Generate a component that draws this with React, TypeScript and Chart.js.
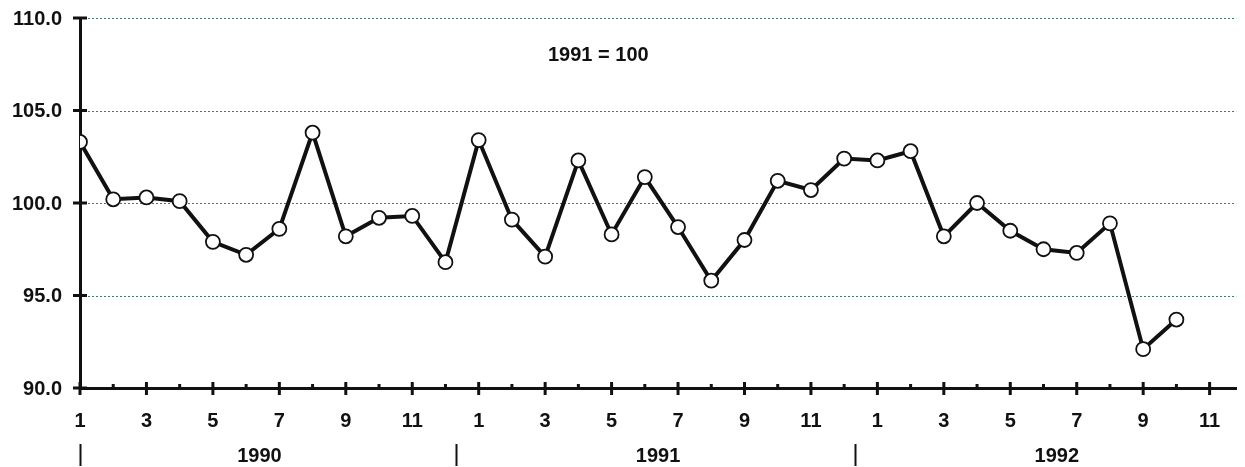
import React, { useEffect, useRef } from 'react';
import { Chart, registerables } from 'chart.js';

Chart.register(...registerables);

const years = ['1990', '1991', '1992'];
const values1990 = [103.3, 100.2, 100.3, 100.1, 97.9, 97.2, 98.6, 103.8, 98.2, 99.2, 99.3, 96.8];
const values1991 = [103.4, 99.1, 97.1, 102.3, 98.3, 101.4, 98.7, 95.8, 98.0, 101.2, 100.7, 102.4];
const values1992 = [102.3, 102.8, 98.2, 100.0, 98.5, 97.5, 97.3, 98.9, 92.1, 93.7];
const yTicks = [90, 95, 100, 105, 110];
const gridValues = [95, 100, 105, 110];
const baseNote = '1991 = 100';
const monthsPerYear = 12;
const xAxisMax = 34.8;

const FONT = '"Liberation Sans", Arial, sans-serif';
const LABEL_FONT = `bold 20px ${FONT}`;

export default function App() {
  const ref = useRef<HTMLCanvasElement | null>(null);

  useEffect(() => {
    const canvas = ref.current;
    if (!canvas) return;
    const series = [...values1990, ...values1991, ...values1992];
    const points = series.map((v, i) => ({ x: i, y: v }));
    const lastIndex = years.length * monthsPerYear - 1;

    const decor = {
      id: 'decor',
      beforeDatasetsDraw(chart: any) {
        const { ctx, chartArea, scales } = chart;
        const y = scales.y;
        ctx.save();
        ctx.strokeStyle = 'rgba(40,95,85,0.85)';
        ctx.lineWidth = 1;
        ctx.setLineDash([2, 2]);
        for (const g of gridValues) {
          const py = Math.round(y.getPixelForValue(g)) + 0.5;
          ctx.beginPath();
          ctx.moveTo(chartArea.left, py);
          ctx.lineTo(chartArea.right, py);
          ctx.stroke();
        }
        ctx.restore();
      },
      afterDraw(chart: any) {
        const { ctx, chartArea, scales } = chart;
        const x = scales.x;
        const y = scales.y;
        ctx.save();
        ctx.strokeStyle = '#111';
        ctx.fillStyle = '#111';
        ctx.lineWidth = 3;
        ctx.font = LABEL_FONT;
        // y tick crosses and labels
        ctx.textAlign = 'right';
        ctx.textBaseline = 'middle';
        for (const t of yTicks) {
          const py = y.getPixelForValue(t);
          ctx.beginPath();
          ctx.moveTo(chartArea.left - 7, py);
          ctx.lineTo(chartArea.left + 7, py);
          ctx.stroke();
          ctx.fillText(t.toFixed(1), chartArea.left - 18, py + 1);
        }
        // x ticks and labels
        ctx.textAlign = 'center';
        for (let i = 0; i <= lastIndex; i++) {
          const px = x.getPixelForValue(i);
          if (px > chartArea.right + 1) continue;
          const month = (i % monthsPerYear) + 1;
          ctx.beginPath();
          if (month % 2 === 1) {
            ctx.moveTo(px, chartArea.bottom - 6);
            ctx.lineTo(px, chartArea.bottom + 7);
          } else {
            ctx.moveTo(px, chartArea.bottom - 4);
            ctx.lineTo(px, chartArea.bottom);
          }
          ctx.stroke();
          if (month % 2 === 1) {
            ctx.fillText(String(month), px, chartArea.bottom + 33);
          }
        }
        // year markers and labels
        years.forEach((yr, k) => {
          const markIdx = Math.max(0, k * monthsPerYear - 0.67);
          const mx = Math.round(x.getPixelForValue(markIdx)) + 0.5;
          ctx.lineWidth = 2;
          ctx.beginPath();
          ctx.moveTo(mx, chartArea.bottom + 56);
          ctx.lineTo(mx, chartArea.bottom + 78);
          ctx.stroke();
          ctx.fillText(yr, x.getPixelForValue(k * monthsPerYear + 5.4), chartArea.bottom + 68);
        });
        // note
        ctx.fillText(baseNote, x.getPixelForValue(15.6), y.getPixelForValue(108));
        ctx.restore();
      },
    };

    const chart = new Chart(canvas, {
      type: 'line',
      data: {
        datasets: [
          {
            data: points,
            borderColor: '#111',
            borderWidth: 4,
            tension: 0,
            pointRadius: 7,
            pointHoverRadius: 7,
            pointBackgroundColor: '#fff',
            pointBorderColor: '#111',
            pointBorderWidth: 1.8,
          },
        ],
      },
      options: {
        responsive: false,
        animation: false,
        layout: { padding: { top: 18, right: 0, left: 0, bottom: 0 } },
        plugins: { legend: { display: false }, tooltip: { enabled: false } },
        scales: {
          x: {
            type: 'linear',
            min: 0,
            max: xAxisMax,
            grid: { display: false, drawTicks: false },
            border: { display: true, color: '#111', width: 3 },
            afterFit: (s: any) => { s.height = 79; },
            ticks: { display: false, stepSize: 1 },
          },
          y: {
            min: 90,
            max: 110,
            grid: { display: false, drawTicks: false },
            border: { display: true, color: '#111', width: 3 },
            afterFit: (s: any) => { s.width = 80; },
            ticks: { display: false, stepSize: 5 },
          },
        },
      },
      plugins: [decor],
    });
    return () => chart.destroy();
  }, []);

  return (
    <div style={{ position: 'fixed', left: 0, top: 0, width: 1245, height: 467, background: '#fff' }}>
      <canvas ref={ref} width={1245} height={467} style={{ display: 'block' }} />
    </div>
  );
}
